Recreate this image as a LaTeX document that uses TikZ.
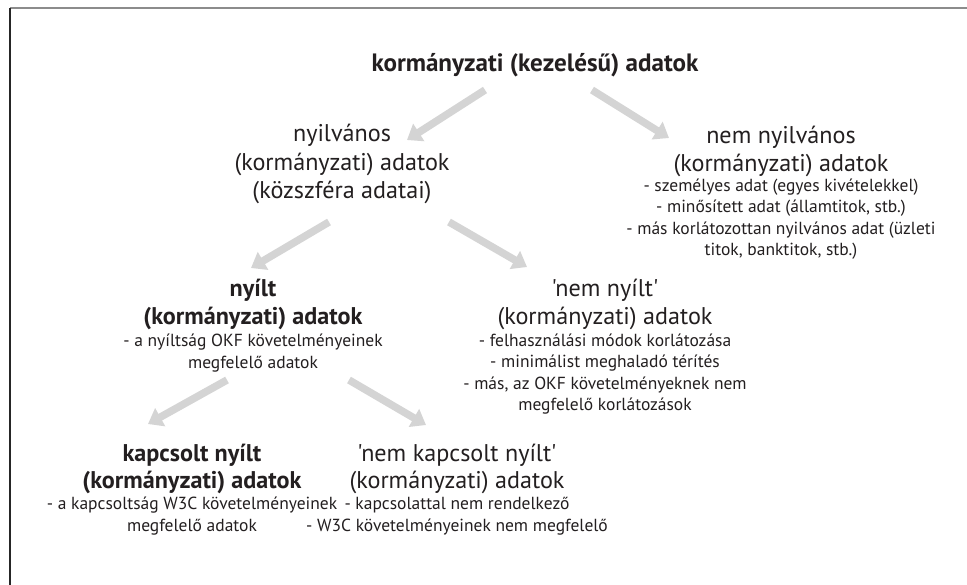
\documentclass[tikz,border=0pt]{standalone}
\usepackage{fontspec}
\setmainfont{PT Sans}[Ligatures=TeXOff]
\usetikzlibrary{arrows.meta,calc}
\definecolor{arrgray}{RGB}{212,212,212}
\definecolor{txt}{RGB}{35,31,32}
\newlength\tmplen
\tikzset{
  big/.style={inner sep=0pt, align=center, text=txt, font=\fontsize{\bigfs}{27.5}\selectfont},
  bigb/.style={inner sep=0pt, align=center, text=txt, font=\fontsize{\bigfs}{27.5}\selectfont\bfseries},
  small/.style={inner sep=0pt, align=center, text=txt, font=\fontsize{\smallfs}{21.5}\selectfont},
  conn/.style={arrgray, line width=7.5pt, -{Triangle[width=20pt,length=14pt]}}
}
\begin{document}
\settowidth\tmplen{\fontsize{20}{24}\selectfont (kormányzati) adatok}%
\pgfmathsetmacro\bigfs{20*215/\tmplen}%
\settowidth\tmplen{\fontsize{14}{18}\selectfont - személyes adat (egyes kivételekkel)}%
\pgfmathsetmacro\smallfs{14*275/\tmplen}%
\settowidth\tmplen{\fontsize{20}{24}\selectfont\bfseries kormányzati (kezelésű) adatok}%
\pgfmathsetmacro\titlefs{20*327/\tmplen}%
\begin{tikzpicture}[x=1pt,y=-1pt]
\useasboundingbox (0,0) rectangle (967,584);
\clip (0,0) rectangle (967,584);
\fill[white] (0,0) rectangle (967,584);
\draw[line width=1.6pt, black!45] (10,8) -- (980,8);
\draw[line width=1.6pt, black!85] (10,8) -- (10,590);

% title
\node[inner sep=0pt, text=txt, font=\fontsize{\titlefs}{26}\selectfont\bfseries] (title) at (535,65) {kormányzati (kezelésű) adatok};

% level 1
\node[big, font=\fontsize{\bigfs}{28.5}\selectfont] (pub) at (342,164) {nyilvános\\(kormányzati) adatok\\(közszféra adatai)};
\node[big] (npub) at (781,151.5) {nem nyilvános\\(kormányzati) adatok};
\node[small] (npubl) at (781,219) {- személyes adat (egyes kivételekkel)\\- minősített adat (államtitok, stb.)\\- más korlátozottan nyilvános adat (üzleti\\titok, banktitok, stb.)};

% level 2
\node[bigb] (open) at (253,304.5) {nyílt\\(kormányzati) adatok};
\node[small] (openl) at (253,353) {- a nyíltság OKF követelményeinek\\megfelelő adatok};
\node[big] (nopen) at (605,304.5) {'nem nyílt'\\(kormányzati) adatok};
\node[small] (nopenl) at (605,374) {- felhasználási módok korlátozása\\- minimálist meghaladó térítés\\- más, az OKF követelményeknek nem\\megfelelő korlátozások};

% level 3
\node[bigb] (lod) at (192,469) {kapcsolt nyílt\\(kormányzati) adatok};
\node[small] (lodl) at (192,516) {- a kapcsoltság W3C követelményeinek\\megfelelő adatok};
\node[big] (nlod) at (457,469) {'nem kapcsolt nyílt'\\(kormányzati) adatok};
\node[small] (nlodl) at (457,516) {- kapcsolattal nem rendelkező\\- W3C követelményeinek nem megfelelő};

% connectors (offsets from node centres; y grows downward)
\draw[conn] ($(title)+(-50,25)$) -- ($(pub)+(65,-24)$);
\draw[conn] ($(title)+(57,25)$) -- ($(npub)+(-112,-13.5)$);
\draw[conn] ($(pub)+(-13,58)$) -- ($(open)+(-2,-36.5)$);
\draw[conn] ($(pub)+(107,58)$) -- ($(nopen)+(-78,-37.5)$);
\draw[conn] ($(openl)+(-26,27)$) -- ($(lod)+(-44,-45)$);
\draw[conn] ($(openl)+(96,27)$) -- ($(nlod)+(-31,-44)$);
\end{tikzpicture}
\end{document}
